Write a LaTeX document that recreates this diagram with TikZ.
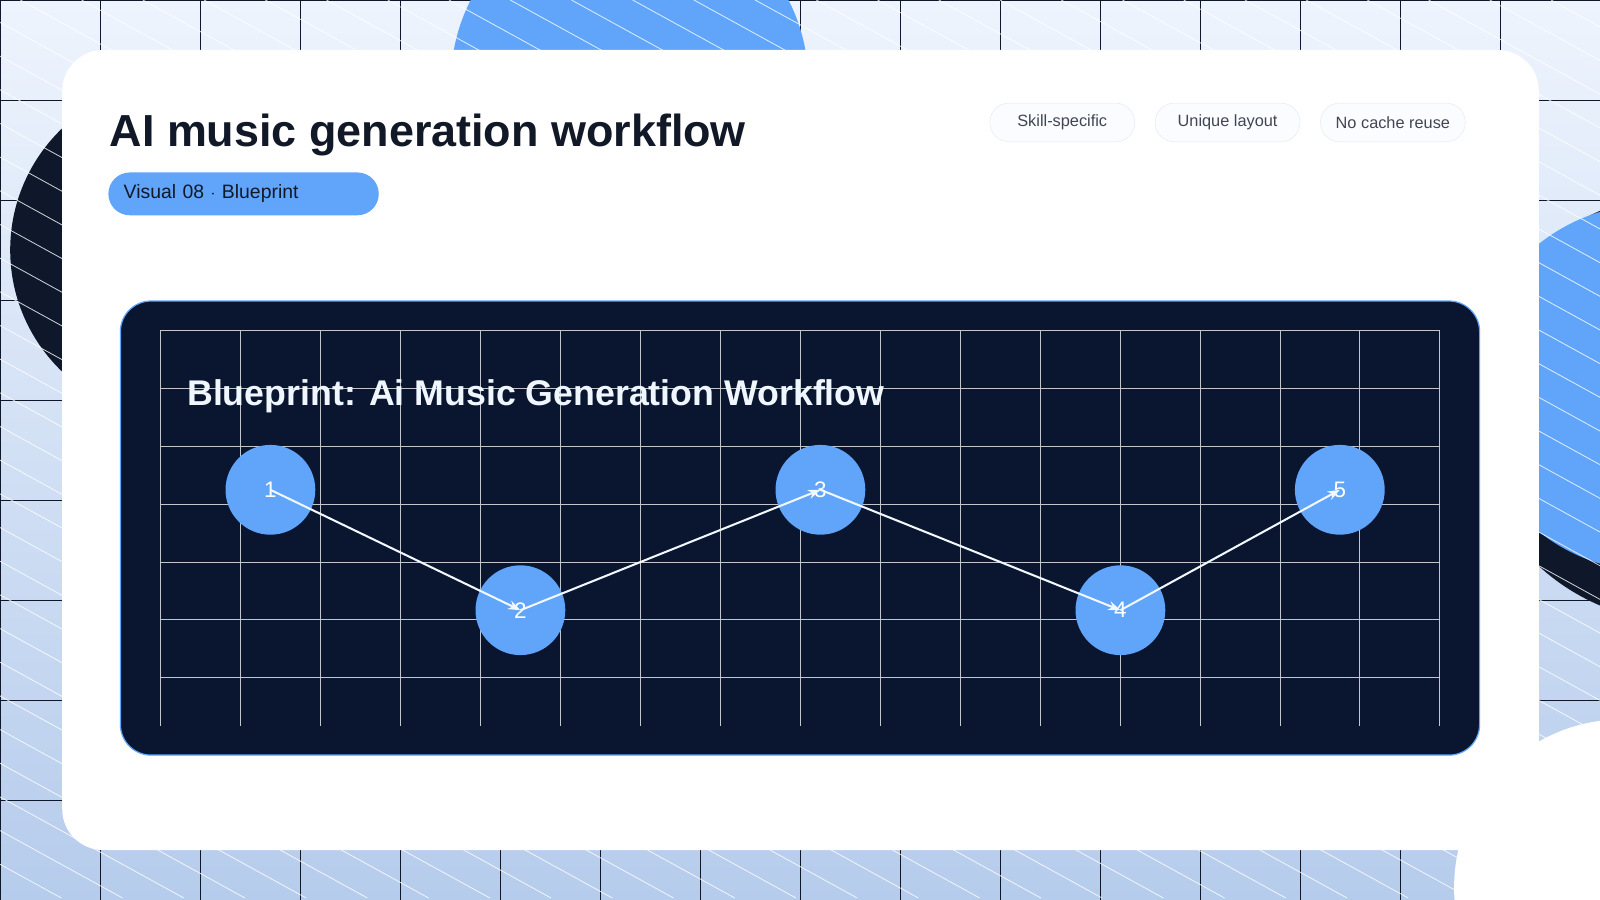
\documentclass[tikz,border=0pt]{standalone}
\usepackage{fontspec}
\setmainfont{Liberation Sans}
\usetikzlibrary{arrows.meta}
\definecolor{bgtop}{HTML}{EEF4FD}
\definecolor{bgbot}{HTML}{B6CCEC}
\definecolor{blue}{HTML}{60A5FA}
\definecolor{navy}{HTML}{0F172A}
\definecolor{panel}{HTML}{0A1530}
\definecolor{ink}{HTML}{111827}
\definecolor{tagbd}{HTML}{E2E8F0}
\tikzset{
  tag/.style={draw=tagbd,fill=white!97!blue,rounded corners=19pt,minimum width=142pt,minimum height=38pt,font=\fontsize{16}{16}\selectfont,text=ink!80},
  step node/.style={circle,fill=blue,minimum size=88pt,inner sep=0pt,text=white,font=\fontsize{22}{22}\selectfont},
  link/.style={draw=white!92!blue,line width=2pt,-{Stealth[length=12pt,width=9pt]}}
}
\begin{document}
\begin{tikzpicture}[x=1pt,y=-1pt]
\useasboundingbox (0,0) rectangle (1568,882);
\shade[top color=bgtop,bottom color=bgbot] (0,0) rectangle (1568,882);
\foreach \x in {0,98,...,1568} \draw[navy,line width=0.8pt] (\x,0)--(\x,882);
\foreach \y in {0,98,...,882} \draw[navy,line width=0.8pt] (0,\y)--(1568,\y);
\begin{scope}
\clip (0,0) rectangle (1568,882);
\fill[blue] (617,80) circle (175);
\fill[navy] (175,245) circle (165);
\fill[navy] (1650,400) circle (210);
\fill[blue] (1620,380) circle (180);
\foreach \s in {-1600,-1540,...,1600} \draw[white,opacity=0.8,line width=0.8pt] (\s,0)--++(1600,880);
\fill[white] (1590,870) circle (165);
\end{scope}
\fill[white] (61,49) [rounded corners=40pt] rectangle (1508,833);
\node[anchor=base west,font=\bfseries\fontsize{44}{44}\selectfont,text=ink] (title) at (104,144) {AI music generation workflow};
\node[anchor=west,fill=blue,rounded corners=21pt,minimum width=265pt,minimum height=42pt,text width=235pt,font=\fontsize{19}{19}\selectfont,text=ink] (pill) at (106,190) {Visual 08 $\cdot$ Blueprint};
\node[tag] (t1) at (1041,120) {Skill-specific};
\node[tag] (t2) at (1203,120) {Unique layout};
\node[tag] (t3) at (1365,120) {No cache reuse};
\fill[panel,draw=blue,line width=1.2pt,rounded corners=30pt] (118,295) rectangle (1450,740);
\foreach \i in {0,...,16} \draw[white!75!panel,line width=0.7pt] ({157+\i*78.375},324)--({157+\i*78.375},711);
\foreach \j in {0,...,6} \draw[white!75!panel,line width=0.7pt] (157,{324+\j*56.67})--(1411,{324+\j*56.67});
\node[anchor=base west,font=\bfseries\fontsize{35}{35}\selectfont,text=white!90!blue] (bt) at (180,397) {Blueprint: Ai Music Generation Workflow};
\node[step node] (n1) at (265,480) {1};
\node[step node] (n2) at (510,598) {2};
\node[step node] (n3) at (804,480) {3};
\node[step node] (n4) at (1098,598) {4};
\node[step node] (n5) at (1313,480) {5};
\draw[link] (n1.center)--(n2.center);
\draw[link] (n2.center)--(n3.center);
\draw[link] (n3.center)--(n4.center);
\draw[link] (n4.center)--(n5.center);
\end{tikzpicture}
\end{document}
